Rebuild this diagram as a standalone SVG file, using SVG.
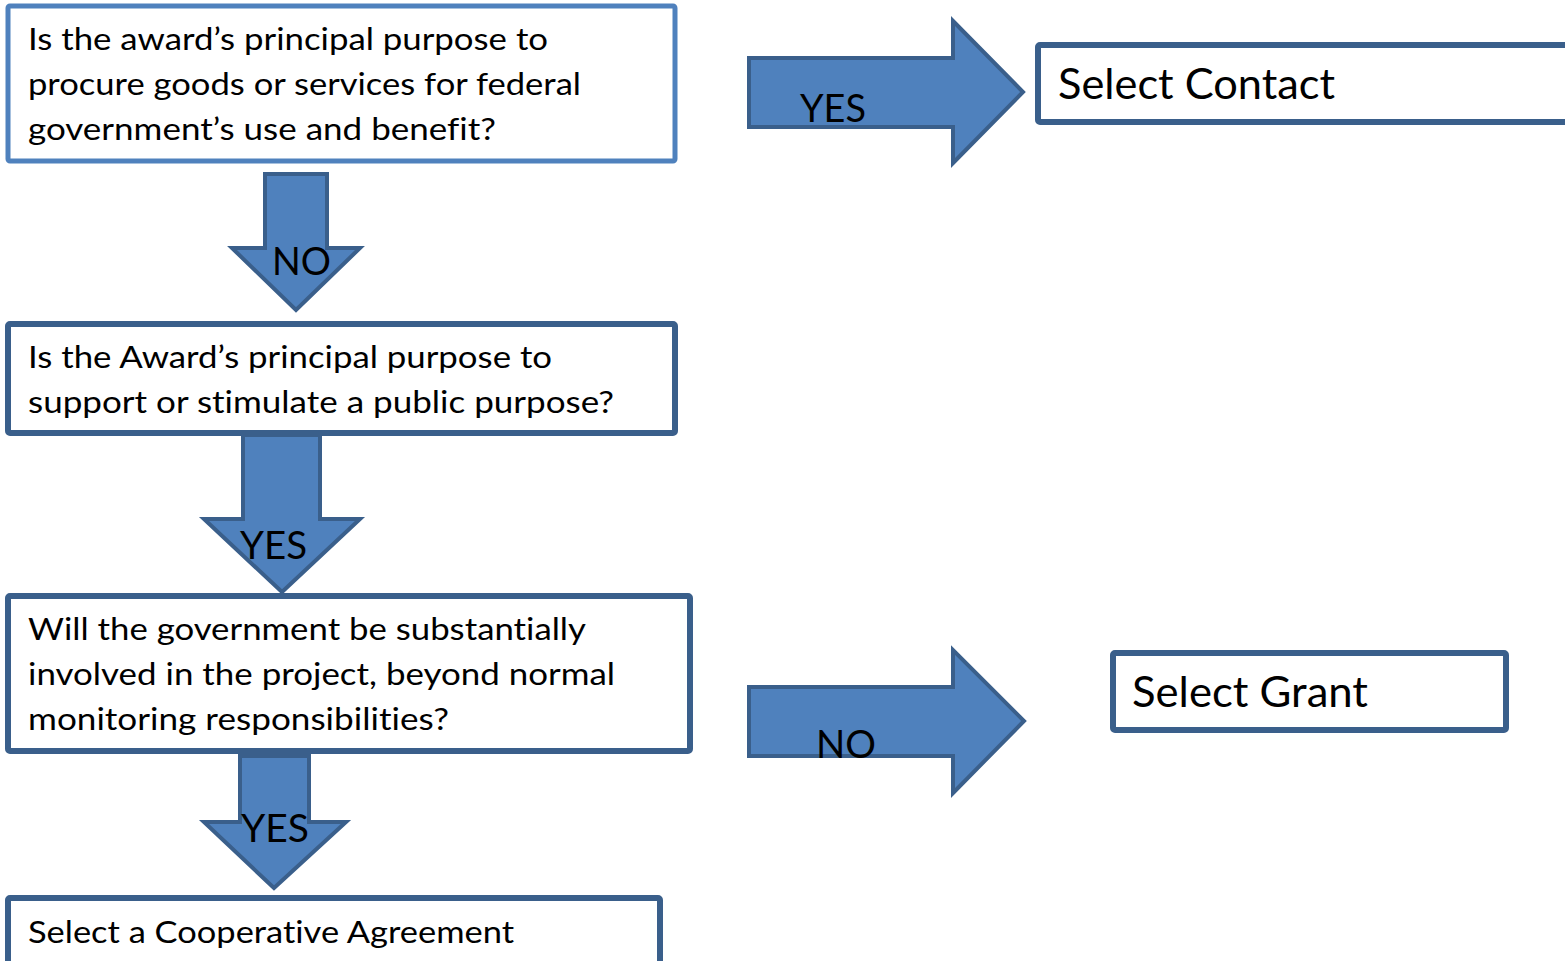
<svg xmlns="http://www.w3.org/2000/svg" width="1565" height="961" viewBox="0 0 1565 961">
<style>
.box{fill:#FFFFFF;stroke:#3A5F8B;stroke-width:6}
.box1{fill:#FFFFFF;stroke:#4F81BD;stroke-width:5}
.arrow{fill:#4F81BD;stroke:#3A5F8B;stroke-width:4;stroke-linejoin:miter}
text{font-family:Lato,"Open Sans","Liberation Sans",sans-serif;fill:#000000;font-variant-ligatures:none;font-feature-settings:"liga" 0,"clig" 0}
.t{font-size:31px}
.big{font-size:42px}
.lbl{font-size:39px}
</style>
<rect width="1565" height="961" fill="#FFFFFF"/>
<g id="connectors">
  <polygon class="arrow" points="265,174 327,174 327,248 360,248 296,310 232,248 265,248"/>
  <polygon class="arrow" points="243,435 320,435 320,519 360,519 282,592 204,519 243,519"/>
  <polygon class="arrow" points="240,756 309,756 309,822 346,822 274,888 204,822 240,822"/>
  <polygon class="arrow" points="749,58 953,58 953,21 1023,92 953,163 953,127 749,127"/>
  <polygon class="arrow" points="749,687 953,687 953,650 1024,721 953,793 953,756 749,756"/>
  <text class="lbl" x="272" y="275" textLength="59" lengthAdjust="spacingAndGlyphs">NO</text>
  <text class="lbl" x="240" y="559" textLength="67" lengthAdjust="spacingAndGlyphs">YES</text>
  <text class="lbl" x="241" y="842" textLength="68" lengthAdjust="spacingAndGlyphs">YES</text>
  <text class="lbl" x="800" y="122" textLength="66" lengthAdjust="spacingAndGlyphs">YES</text>
  <text class="lbl" x="816" y="758" textLength="60" lengthAdjust="spacingAndGlyphs">NO</text>
</g>
<g id="q1">
  <rect class="box1" x="8" y="6" width="667" height="155" rx="2"/>
  <text class="t" x="28" y="50" textLength="520" lengthAdjust="spacingAndGlyphs">Is the award’s principal purpose to</text>
  <text class="t" x="28" y="95" textLength="553" lengthAdjust="spacingAndGlyphs">procure goods or services for federal</text>
  <text class="t" x="28" y="140" textLength="468" lengthAdjust="spacingAndGlyphs">government’s use and benefit?</text>
</g>
<g id="q2">
  <rect class="box" x="8" y="324" width="667" height="109" rx="2"/>
  <text class="t" x="28" y="368" textLength="524" lengthAdjust="spacingAndGlyphs">Is the Award’s principal purpose to</text>
  <text class="t" x="28" y="413" textLength="586" lengthAdjust="spacingAndGlyphs">support or stimulate a public purpose?</text>
</g>
<g id="q3">
  <rect class="box" x="8" y="596" width="682" height="155" rx="2"/>
  <text class="t" x="28" y="640" textLength="558" lengthAdjust="spacingAndGlyphs">Will the government be substantially</text>
  <text class="t" x="28" y="685" textLength="587" lengthAdjust="spacingAndGlyphs">involved in the project, beyond normal</text>
  <text class="t" x="28" y="730" textLength="421" lengthAdjust="spacingAndGlyphs">monitoring responsibilities?</text>
</g>
<g id="coop">
  <rect class="box" x="8" y="898" width="652" height="90" rx="2"/>
  <text class="t" x="28" y="943" textLength="486" lengthAdjust="spacingAndGlyphs">Select a Cooperative Agreement</text>
</g>
<g id="contract">
  <rect class="box" x="1038" y="45" width="600" height="77" rx="2"/>
  <text class="big" x="1058" y="99" textLength="277" lengthAdjust="spacingAndGlyphs">Select Contact</text>
</g>
<g id="grant">
  <rect class="box" x="1113" y="653" width="393" height="77" rx="2"/>
  <text class="big" x="1132" y="707" textLength="236" lengthAdjust="spacingAndGlyphs">Select Grant</text>
</g>
</svg>
